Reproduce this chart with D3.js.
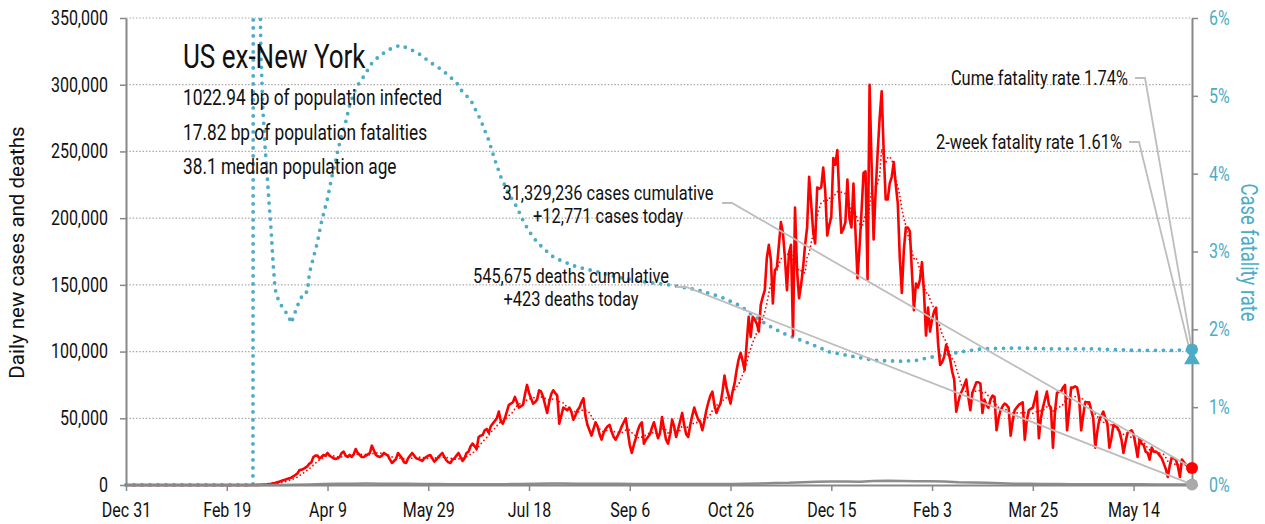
<!DOCTYPE html>
<html lang="en">
<head>
<meta charset="UTF-8">
<title>US ex-New York</title>
<style>
  body { margin: 0; background: #fff; }
  text { font-family: Roboto, "Liberation Sans", sans-serif; fill: #111; }
</style>
</head>
<body>
<div id="chart"></div>
<script src="https://d3js.org/d3.v7.min.js"></script>
<script>
// series start on this date, one value per day
const startDate = "2019-12-31";

// daily new cases, thousands (US excluding New York)
const dailyCasesK = [
  0,0,0,0,0,0,0, 0,0,0,0,0,0,0, 0,0,0,0,0,0,0, 0,0,0,0,0,0,0,
  0,0,0,0,0,0,0, 0,0,0,0,0,0,0, 0,0,0,0,0,0,0, 0,0,0,0,0,0,0,
  0,0,0,0,0,0,0,
  0.05,0.05,0.1,0.1,0.2,0.3,0.4,
  0.5,0.7,0.9,1.2,1.5,2,2.5,
  3,3.5,4,4.5,5,5.5,6.5,
  7.5,8.5,11,11.5,12,13,14,
  16,17,21,22,22,20,21,
  22.5,22,24,22,21,20,19.5,
  20,21,24,25,22,21,22.5,
  21,23,27,24,22.5,21,21,
  22,23,24,29.5,26,22.5,21.5,
  21,22,24,23,22,19,16.5,
  18,19.5,24,22,20,17,16.5,
  20,22,24,22,20,19.5,19,
  18,20,21,22,22.5,20,17.5,
  19,21,22.5,24,21,18.5,17,
  16.5,19,20,22,24,21,18,
  20,24,25,29,31,29,27,
  36,37,37.5,41,42,39,44,
  46,48,50,55,48,46,50,
  55,60,61,62,66,62,58,
  59,60,68,75,69,65,61,
  62,64,71,70,66,60,54,
  62,68,71,69,67,46,52,
  58,57,56,58,55,49,52,
  56,58,62,65,52,45,41,
  37,42,47,44,38,34,39,
  42,44,45,40,36,34,37,
  40,44,47,50,40,30,24,
  30,35,41,45,47,31,34,
  36,38,43,47,41,35,39,
  51,42,34,31,38,49,44,
  36,42,48,54,45,38,36,
  45,52,58,53,49,47,41,
  48,56,62,67,70,60,54,
  58,61,70,82,73,67,61,
  70,76,86,94,99,93,86,
  106,126,111,126,124,121,115,
  135,141,146,170,180,169,136,
  161,163,180,197,189,170,146,
  174,180,112,208,161,140,150,
  163,180,193,231,211,190,181,
  223,222,223,238,220,187,195,
  201,245,240,251,215,189,192,
  197,229,200,193,226,190,155,
  178,205,234,235,154,300,240,
  184,220,249,275,295,250,214,
  214,226,231,242,225,211,170,
  144,176,193,193,190,160,131,
  151,148,154,167,144,112,133,
  115,124,130,133,106,90,92,
  96,105,100,94,85,79,55,
  62,68,71,75,79,66,56,
  69,73,77,77,76,54,64,
  60,58,64,67,66,41,50,
  56,59,61,60,58,37,48,
  56,58,60,61,62,34,48,
  56,57,58,64,70,35,50,
  58,64,70,60,58,28,55,
  69,70,70,73,75,41,55,
  73,73,74,73,65,41,52,
  62,62,62,56,50,28,40,
  49,52,55,50,46,28,35,
  45,44,43,40,34,24,32,
  39,40,41,38,30,21,34,
  31,30,25,24,19,28,25,
  25,24,22,20,16,12,6,
  15,21,20,19,14,6,19,
  17,15,14,14,12.771
];

// daily deaths, one value per week from the start date
const weeklyDeaths = [
  0,0,0,0,0,0,0,0,0,1,
  5,30,150,400,700,900,1000,1050,1000,900,
  850,750,700,600,550,550,550,650,800,950,
  1100,1050,1000,1000,900,850,750,750,750,700,
  700,700,750,800,950,1150,1450,1650,2100,2400,
  2550,2550,2500,2950,3200,3050,2900,2750,2700,2000,
  1950,1700,1350,1000,850,800,700,650,650,620,
  600,550,500,450,400,380
];

// case fatality rate (%), by day since the start date
const cfrDay = [0,63,64,65,66,67,68,69,70,71,72,73,74,75,76,77,78,79,80,81,82,83,85,86,88,90,91,93,95,97,
  100,102,105,107,109,111,114,118,122,126,131,136,141,146,151,157,164,167,171,176,180,183,186,190,194,197,
  200,204,208,212,217,224,234,244,257,270,283,295,300,305,310,318,326,333,341,349,359,372,385,392,399,406,
  414,425,442,458,480,500,520,529];
const cfrPct = [0,0,40,12,7,5.5,4.8,4.35,4.0,3.62,3.28,2.85,2.52,2.42,2.36,2.31,2.27,2.23,2.2,2.15,2.08,2.15,2.3,2.35,2.47,2.48,2.72,2.92,3.12,3.38,
  3.68,3.94,4.28,4.5,4.66,4.88,5.1,5.25,5.42,5.52,5.6,5.65,5.6,5.53,5.43,5.33,5.17,5.05,4.95,4.69,4.43,4.18,3.96,3.74,3.57,3.4,
  3.26,3.12,3.02,2.93,2.87,2.8,2.74,2.67,2.61,2.57,2.51,2.42,2.36,2.3,2.2,2.06,1.95,1.88,1.8,1.71,1.66,1.6,1.59,1.6,1.64,1.67,
  1.71,1.75,1.76,1.75,1.75,1.73,1.73,1.74];

const xTickDays = [0,50,100,150,200,250,300,350,400,450,500];
const xTickLabels = ["Dec 31","Feb 19","Apr 9","May 29","Jul 18","Sep 6","Oct 26","Dec 15","Feb 3","Mar 25","May 14"];
const yTicks = [0,50000,100000,150000,200000,250000,300000,350000];
const pctTicks = [0,1,2,3,4,5,6];

const title = "US ex-New York";
const statLines = ["1022.94 bp of population infected", "17.82 bp of population fatalities", "38.1 median population age"];
const casesCumulative = 31329236, casesToday = 12771;
const deathsCumulative = 545675, deathsToday = 423;
const cumeRate = 1.74, twoWeekRate = 1.61;

const teal = "#4bacc6", red = "#ff0000", grey = "#8c8c8c";
const narrow = 0.8;   // horizontal squeeze to mimic a condensed face

const W = 1265, H = 524;
const L = 126, R = 1192, T = 18, B = 485;

const svg = d3.select("#chart").append("svg").attr("width", W).attr("height", H);

// text drawn in a squeezed group so it reads like a condensed font
function label(parent, x, y, str, size, anchor, color, rot, sx) {
  const g = parent.append("g")
    .attr("transform", `translate(${x},${y})` + (rot ? ` rotate(${rot})` : "") + ` scale(${sx || narrow},1)`);
  return g.append("text").attr("text-anchor", anchor || "start")
    .style("font-size", size + "px").style("fill", color || "#111").text(str);
}

const day0 = d3.timeParse("%Y-%m-%d")(startDate);
const dayDate = d => d3.timeDay.offset(day0, d);
const lastDay = dailyCasesK.length - 1;

const cases = dailyCasesK.map((v, i) => ({date: dayDate(i), value: v * 1000}));
const avg7 = cases.map((d, i) => ({date: d.date, value: d3.mean(cases.slice(Math.max(0, i - 6), i + 1), e => e.value)}));
const deaths = weeklyDeaths.map((v, i) => ({date: dayDate(i * 7), value: v}))
  .concat([{date: dayDate(lastDay), value: deathsToday}]);
const cfr = cfrDay.map((d, i) => ({date: dayDate(d), value: cfrPct[i]}));

const x = d3.scaleTime().domain([day0, dayDate(lastDay)]).range([L, R]);
const y = d3.scaleLinear().domain([0, 350000]).range([B, T]);
const yr = d3.scaleLinear().domain([0, 6]).range([B, T]);

svg.append("clipPath").attr("id", "plot")
  .append("rect").attr("x", L - 2).attr("y", T).attr("width", R - L + 4).attr("height", B - T + 6);

// gridlines
svg.append("g").selectAll("line")
  .data(yTicks.filter(d => d > 0))
  .join("line")
  .attr("x1", L).attr("x2", R)
  .attr("y1", d => y(d)).attr("y2", d => y(d))
  .attr("stroke", "#aaa").attr("stroke-width", 1.2)
  .attr("stroke-dasharray", "1.5,1.8");

const plot = svg.append("g").attr("clip-path", "url(#plot)");

const line = (sc) => d3.line().x(d => x(d.date)).y(d => sc(d.value));

plot.append("path").datum(cfr)
  .attr("d", line(yr))
  .attr("fill", "none").attr("stroke", teal).attr("stroke-width", 3.8)
  .attr("stroke-linecap", "round").attr("stroke-dasharray", "0,8");

plot.append("path").datum(cases)
  .attr("d", line(y))
  .attr("fill", "none").attr("stroke", red).attr("stroke-width", 2.6)
  .attr("stroke-linejoin", "round");

plot.append("path").datum(avg7)
  .attr("d", line(y))
  .attr("fill", "none").attr("stroke", red).attr("stroke-width", 1.8)
  .attr("stroke-linecap", "round").attr("stroke-dasharray", "0,4");

plot.append("path").datum(deaths)
  .attr("d", line(y))
  .attr("fill", "none").attr("stroke", grey).attr("stroke-width", 2.5);

// axes
const xAxis = svg.append("g").attr("transform", `translate(0,${B})`)
  .call(d3.axisBottom(x).tickValues(xTickDays.map(dayDate))
    .tickFormat((d, i) => xTickLabels[i]).tickSize(6).tickSizeOuter(0));
xAxis.selectAll("text").attr("y", null).attr("dy", null)
  .attr("transform", `translate(0,32) scale(${narrow},1)`).style("font-size", "20px");

const yAxis = svg.append("g").attr("transform", `translate(${L},0)`)
  .call(d3.axisLeft(y).tickValues(yTicks).tickFormat(d3.format(",")).tickSize(6).tickSizeOuter(0));
yAxis.selectAll("text").attr("x", null)
  .attr("transform", `translate(-18,0) scale(${narrow},1)`).style("font-size", "20px");

const rAxis = svg.append("g").attr("transform", `translate(${R},0)`)
  .call(d3.axisRight(yr).tickValues(pctTicks).tickFormat(d => d + "%").tickSize(6).tickSizeOuter(0));
rAxis.selectAll("text").attr("x", null)
  .attr("transform", `translate(17,0) scale(${narrow},1)`).style("font-size", "20px").style("fill", teal);

[xAxis, yAxis, rAxis].forEach(a => {
  a.attr("font-family", null);
  a.select(".domain").attr("stroke", "#888").attr("stroke-width", 2);
  a.selectAll(".tick line").attr("stroke", "#888").attr("stroke-width", 1.5);
});

label(svg, 24, (T + B) / 2 + 1, "Daily new cases and deaths", 20.5, "middle", "#111", -90, 1);
label(svg, 1241, (T + B) / 2 + 1, "Case fatality rate", 23, "middle", teal, 90);

// title block
label(svg, 183, 68, title, 32.5);
statLines.forEach((s, i) => label(svg, 183, 105 + i * 34.5, s, 21.6));

// annotations with leader lines to the latest values
const fmt = d3.format(",");
const endX = x(dayDate(lastDay));
const notes = [
  {lines: [fmt(casesCumulative) + " cases cumulative", "+" + fmt(casesToday) + " cases today"],
   tx: 608, ty: 200, anchor: "middle", lx: 722, ly: 203, ex: endX, ey: y(casesToday)},
  {lines: [fmt(deathsCumulative) + " deaths cumulative", "+" + deathsToday + " deaths today"],
   tx: 571, ty: 283, anchor: "middle", lx: 676, ly: 287, ex: endX, ey: y(deathsToday)},
  {lines: ["Cume fatality rate " + cumeRate.toFixed(2) + "%"],
   tx: 1128, ty: 85, anchor: "end", lx: 1135, ly: 78, ex: endX, ey: yr(cumeRate)},
  {lines: ["2-week fatality rate " + twoWeekRate.toFixed(2) + "%"],
   tx: 1122, ty: 149, anchor: "end", lx: 1129, ly: 142, ex: endX, ey: yr(twoWeekRate)}
];

svg.append("g").selectAll("polyline").data(notes).join("polyline")
  .attr("points", d => `${d.lx},${d.ly} ${d.lx + 10},${d.ly} ${d.ex},${d.ey}`)
  .attr("fill", "none").attr("stroke", "#bdbdbd").attr("stroke-width", 1.8);

notes.forEach(n => n.lines.forEach((s, i) => label(svg, n.tx, n.ty + i * 23, s, 20.5, n.anchor)));

// end markers
svg.append("circle").attr("cx", endX).attr("cy", y(deathsToday)).attr("r", 6).attr("fill", "#aaa");
svg.append("circle").attr("cx", endX).attr("cy", y(casesToday)).attr("r", 6).attr("fill", red);
svg.append("circle").attr("cx", endX).attr("cy", yr(cumeRate)).attr("r", 6).attr("fill", teal);
svg.append("path").attr("d", d3.symbol(d3.symbolTriangle, 110)())
  .attr("transform", `translate(${endX},${yr(twoWeekRate)})`).attr("fill", teal);
</script>
</body>
</html>
